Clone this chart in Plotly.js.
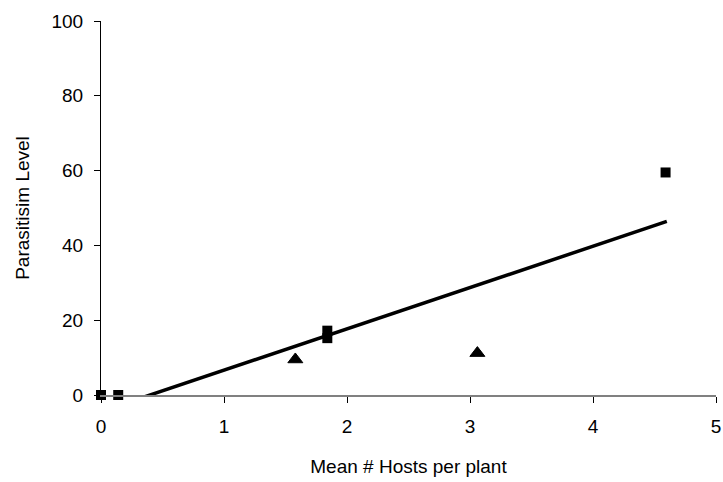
<!DOCTYPE html>
<html><head><meta charset="utf-8">
<script src="https://cdn.plot.ly/plotly-3.0.1.min.js"></script>
<style>body{margin:0;background:#fff}#c{width:723px;height:482px}</style>
</head><body><div id="c"></div>
<script>
const squareX = [0, 0.14, 1.84, 1.84, 4.59];
const squareY = [0, 0, 17.2, 15.2, 59.5];
const triangleX = [1.58, 3.06];
const triangleY = [9.5, 11.2];
const trendX = [0, 4.6];
const trendY = [-4.4, 46.4];
const xTicks = [0, 1, 2, 3, 4, 5];
const yTicks = [0, 20, 40, 60, 80, 100];

const traces = [
  {x: trendX, y: trendY, mode: 'lines', line: {color: '#000', width: 3.5}, hoverinfo: 'skip'},
  {x: squareX, y: squareY, mode: 'markers', marker: {symbol: 'square', size: 10, color: '#000'}, cliponaxis: false},
  {x: triangleX, y: triangleY, mode: 'markers', marker: {symbol: 'triangle-up', size: 13, color: '#000', line: {color: '#000', width: 1}}, cliponaxis: false}
];
const layout = {
  width: 723, height: 482,
  margin: {l: 101, r: 7, t: 21, b: 87},
  showlegend: false,
  paper_bgcolor: '#fff', plot_bgcolor: '#fff',
  font: {family: 'Liberation Sans, Arial, sans-serif', size: 19, color: '#000'},
  xaxis: {
    range: [0, 5], tickvals: xTicks, showgrid: false, zeroline: false,
    showline: true, linecolor: '#808080', linewidth: 2,
    ticks: 'outside', ticklen: 6, tickcolor: '#000', tickwidth: 1,
    ticklabelstandoff: 7, tickfont: {size: 19, color: '#000'},
    title: {text: 'Mean # Hosts per plant', font: {size: 19, color: '#000'}, standoff: 24}
  },
  yaxis: {
    range: [0, 100], tickvals: yTicks, showgrid: false, zeroline: false,
    showline: true, linecolor: '#000', linewidth: 1,
    ticks: 'outside', ticklen: 6, tickcolor: '#000', tickwidth: 1,
    ticklabelstandoff: 7, tickfont: {size: 19, color: '#000'},
    title: {text: 'Parasitisim Level', font: {size: 19, color: '#000'}, standoff: 16}
  }
};
Plotly.newPlot('c', traces, layout, {displayModeBar: false, staticPlot: true});
</script></body></html>
